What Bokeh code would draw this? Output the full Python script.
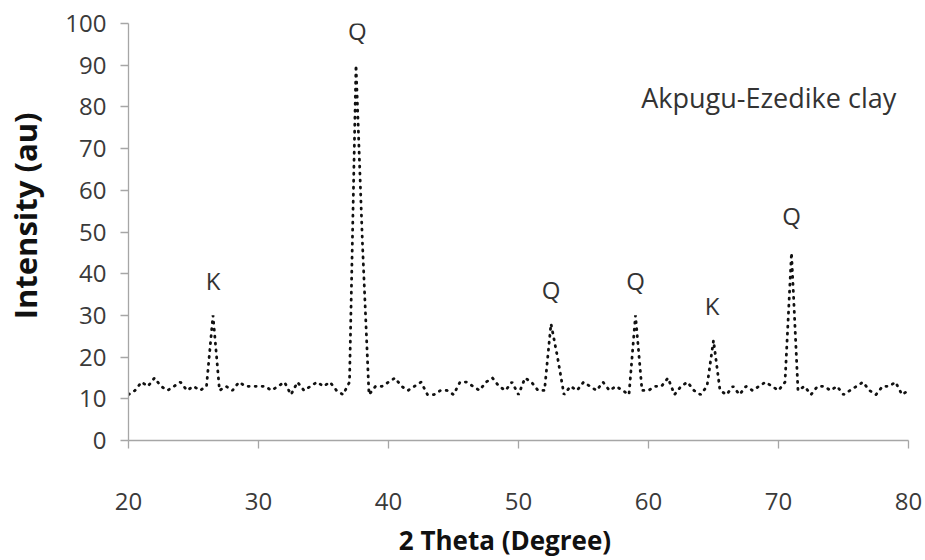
from bokeh.plotting import figure
from bokeh.models import Range1d, FixedTicker, ColumnDataSource, Label
from bokeh.embed import file_html
from bokeh.resources import INLINE
from bokeh.core.properties import value

# ---- data ----
two_theta = [
    20.0, 20.5, 21.0, 21.5, 22.0, 22.5, 23.0, 23.5, 24.0, 24.5,
    25.0, 25.5, 26.0, 26.5, 27.0, 27.5, 28.0, 28.5, 29.0, 29.5,
    30.0, 30.5, 31.0, 31.5, 32.0, 32.5, 33.0, 33.5, 34.0, 34.5,
    35.0, 35.5, 36.0, 36.5, 37.0, 37.5, 38.0, 38.5, 39.0, 39.5,
    40.0, 40.5, 41.0, 41.5, 42.0, 42.5, 43.0, 43.5, 44.0, 44.5,
    45.0, 45.5, 46.0, 46.5, 47.0, 47.5, 48.0, 48.5, 49.0, 49.5,
    50.0, 50.5, 51.0, 51.5, 52.0, 52.5, 53.0, 53.5, 54.0, 54.5,
    55.0, 55.5, 56.0, 56.5, 57.0, 57.5, 58.0, 58.5, 59.0, 59.5,
    60.0, 60.5, 61.0, 61.5, 62.0, 62.5, 63.0, 63.5, 64.0, 64.5,
    65.0, 65.5, 66.0, 66.5, 67.0, 67.5, 68.0, 68.5, 69.0, 69.5,
    70.0, 70.5, 71.0, 71.5, 72.0, 72.5, 73.0, 73.5, 74.0, 74.5,
    75.0, 75.5, 76.0, 76.5, 77.0, 77.5, 78.0, 78.5, 79.0, 79.5,
    80.0,
]
intensity = [
    11, 12, 14, 13, 15, 13, 12, 13, 14, 12,
    13, 12, 13, 30, 12, 13, 12, 14, 13, 13,
    13, 13, 12, 13, 14, 11, 14, 12, 13, 14,
    13, 14, 12, 11, 14, 90, 47, 11, 13, 13,
    14, 15, 13, 12, 13, 14, 11, 11, 12, 12,
    11, 14, 14, 13, 12, 14, 15, 13, 12, 14,
    11, 15, 14, 12, 12, 28, 20, 11, 13, 12,
    14, 13, 12, 14, 12, 13, 12, 11, 30, 12,
    12, 13, 13, 15, 11, 13, 14, 12, 11, 13,
    24, 12, 11, 13, 11, 13, 12, 13, 14, 13,
    12, 14, 45, 12, 13, 11, 13, 13, 12, 13,
    11, 12, 13, 14, 12, 11, 13, 13, 14, 11,
    12,
]
peak_x = [26.5, 37.6, 52.5, 59.0, 64.9, 71.0]
peak_label_y = [38.3, 98.4, 36.3, 38.3, 32.3, 53.9]
peak_phase = ["K", "Q", "Q", "Q", "K", "Q"]
x_ticks = [20, 30, 40, 50, 60, 70, 80]
y_ticks = [0, 10, 20, 30, 40, 50, 60, 70, 80, 90, 100]
sample_name = "Akpugu-Ezedike clay"
x_title = "2 Theta (Degree)"
y_title = "Intensity (au)"

NBSP = "\u00a0"

# ---- figure ----
p = figure(width=925, height=560,
           x_range=Range1d(20, 80), y_range=Range1d(0, 100),
           output_backend="svg", toolbar_location=None,
           min_border_left=128, min_border_right=17,
           min_border_top=23, min_border_bottom=119)
p.background_fill_color = "white"
p.border_fill_color = "white"
p.outline_line_color = None
p.grid.visible = False

FONT = "Open Sans"
for ax in (p.xaxis[0], p.yaxis[0]):
    ax.axis_line_color = "#a6a6a6"
    ax.axis_line_width = 1.3
    ax.major_tick_line_color = "#a6a6a6"
    ax.major_tick_line_width = 1.3
    ax.major_tick_out = 8
    ax.major_tick_in = 0
    ax.minor_tick_line_color = None
    ax.major_label_text_font = FONT
    ax.major_label_text_font_size = "24px"
    ax.major_label_text_color = "#3a3a3a"
    ax.axis_label_text_font = FONT
    ax.axis_label_text_font_style = "bold"
    ax.axis_label_text_color = "#111111"

p.xaxis.ticker = FixedTicker(ticks=x_ticks)
p.yaxis.ticker = FixedTicker(ticks=y_ticks)
# padding with non-breaking spaces shifts the titles off the frame centre,
# as in the reference
p.xaxis.axis_label = x_title + NBSP * 4
p.yaxis.axis_label = NBSP * 4 + y_title
p.xaxis.axis_label_text_font_size = "26px"
p.yaxis.axis_label_text_font_size = "31px"
p.xaxis.major_label_standoff = 44
p.yaxis.major_label_standoff = 14
p.xaxis.axis_label_standoff = 9
p.yaxis.axis_label_standoff = 16

src = ColumnDataSource(data=dict(x=two_theta, y=intensity))
p.line("x", "y", source=src, line_color="#111111", line_width=2.8,
       line_dash="1 6", line_cap="round")

lab = ColumnDataSource(data=dict(x=peak_x, y=peak_label_y, t=peak_phase))
p.text("x", "y", text="t", source=lab, text_font=value(FONT),
       text_font_size=value("24px"), text_color="#333333",
       text_align="center", text_baseline="middle")

p.add_layout(Label(x=59.44, y=82.3, text=sample_name, text_font=FONT,
                   text_font_size="27px", text_color="#333333",
                   text_baseline="middle", text_align="left"))

open("out.html", "w").write(file_html(p, INLINE))
